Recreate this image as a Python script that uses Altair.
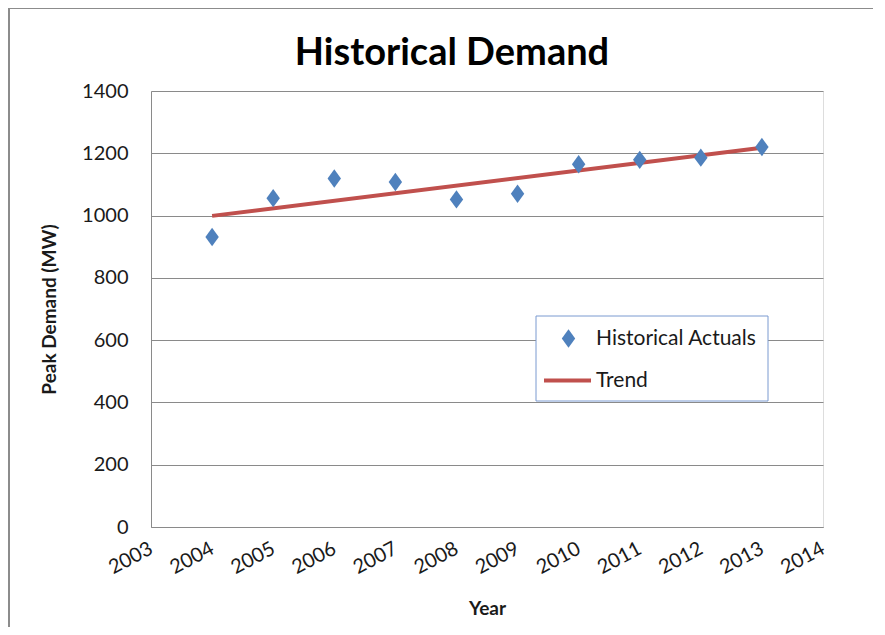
import altair as alt
import pandas as pd

years = [2004, 2005, 2006, 2007, 2008, 2009, 2010, 2011, 2012, 2013]
actuals = [931, 1056, 1119, 1108, 1052, 1070, 1165, 1179, 1186, 1220]
trend_years = [2004, 2013]
trend_values = [999, 1218]
x_ticks = list(range(2003, 2015))
y_ticks = list(range(0, 1401, 200))
title_text = "Historical Demand"

FONT = "Lato"
BLUE = "#4F81BD"
RED = "#C0504D"
GRID = "#8a8a8a"
TXT = "#1a1a1a"
DIAMOND = "M0,-1.3L0.95,0L0,1.3L-0.95,0Z"

pts = pd.DataFrame({"Year": years, "Demand": actuals, "series": ["Historical Actuals"] * len(years)})
trend = pd.DataFrame({"Year": trend_years, "Demand": trend_values, "series": ["Trend"] * len(trend_years)})

xscale = alt.Scale(domain=[2003, 2014], nice=False, zero=False)
yscale = alt.Scale(domain=[0, 1400], nice=False)

xaxis = alt.Axis(values=x_ticks, format="d", grid=False, ticks=False, domainColor=GRID,
                 labelAngle=-28, labelAlign="right", labelBaseline="middle", labelPadding=20,
                 labelFont=FONT, labelFontSize=20, labelColor=TXT, title="Year",
                 titleFont=FONT, titleFontSize=19, titleFontWeight="bold", titleColor=TXT,
                 titlePadding=22, labelOverlap=False)
yaxis = alt.Axis(values=y_ticks, format="d", grid=True, gridColor=GRID, ticks=False, domainColor=GRID,
                 labelPadding=23, labelFont=FONT, labelFontSize=20, labelColor=TXT,
                 title="Peak Demand (MW)", titleFont=FONT, titleFontSize=19,
                 titleFontWeight="bold", titleColor=TXT, titlePadding=22)

one = pd.DataFrame({"t": [title_text]})

frame = alt.Chart(one).mark_rect(
    fill="white", stroke="#7b9ad0", strokeWidth=1
).encode(x=alt.value(385), x2=alt.value(617), y=alt.value(225), y2=alt.value(310))

border_left = alt.Chart(one).mark_rule(
    color="#8c8c8c", strokeWidth=2, clip=False
).encode(x=alt.value(-142), y=alt.value(-83), y2=alt.value(700))
border_top = alt.Chart(one).mark_rule(
    color="#8c8c8c", strokeWidth=2, clip=False
).encode(x=alt.value(-142), x2=alt.value(900), y=alt.value(-83))

title = alt.Chart(one).mark_text(
    font=FONT, fontSize=38, fontWeight="bold", color="black", align="center",
    baseline="alphabetic", clip=False
).encode(x=alt.value(301), y=alt.value(-26), text="t:N")

line = alt.Chart(trend).mark_line(color=RED, strokeWidth=4).encode(
    x=alt.X("Year:Q", scale=xscale, axis=xaxis),
    y=alt.Y("Demand:Q", scale=yscale, axis=yaxis),
    color=alt.Color("series:N", scale=alt.Scale(domain=["Trend"], range=[RED]),
                    legend=alt.Legend(title=None, orient="none", legendX=391, legendY=264,
                                      symbolType="stroke", symbolSize=2209, symbolStrokeWidth=4,
                                      labelFont=FONT, labelFontSize=21, labelColor=TXT,
                                      labelOffset=3, padding=0, labelLimit=300)),
)

points = alt.Chart(pts).mark_point(shape=DIAMOND, filled=True, size=200, opacity=1).encode(
    x=alt.X("Year:Q", scale=xscale, axis=xaxis),
    y=alt.Y("Demand:Q", scale=yscale, axis=yaxis),
    color=alt.Color("series:N", scale=alt.Scale(domain=["Historical Actuals"], range=[BLUE]),
                    legend=alt.Legend(title=None, orient="none", legendX=407, legendY=237,
                                      symbolType=DIAMOND, symbolSize=200, symbolOpacity=1,
                                      labelFont=FONT, labelFontSize=21, labelColor=TXT,
                                      labelOffset=17, padding=0, labelLimit=300)),
)

chart = alt.layer(border_left, border_top, frame, title, line, points).resolve_scale(
    color="independent"
).properties(
    width=672, height=436,
    autosize=alt.AutoSizeParams(type="none"),
    padding={"left": 143, "top": 83, "right": 50, "bottom": 100},
).configure_view(stroke=None).configure(background="white")

chart.save("out.html", embed_options={"renderer": "svg", "actions": False})
